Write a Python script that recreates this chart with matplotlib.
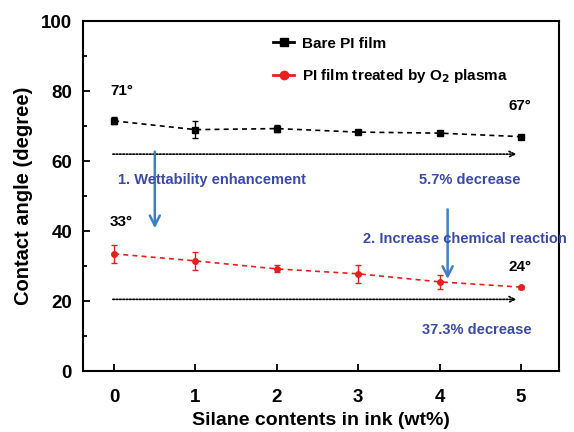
import numpy as np
import matplotlib.pyplot as plt
from matplotlib.ticker import MultipleLocator
from matplotlib.lines import Line2D

plt.rcParams['font.family'] = ['Liberation Sans', 'DejaVu Sans']
plt.rcParams['font.weight'] = 'bold'

silane = [0, 1, 2, 3, 4, 5]
bare = [71.5, 69.0, 69.3, 68.3, 68.0, 67.0]
bare_err = [1.0, 2.5, 1.0, 0.4, 0.4, 0.4]
plasma = [33.5, 31.5, 29.2, 27.8, 25.5, 24.0]
plasma_err = [2.5, 2.5, 1.0, 2.5, 2.0, 0.4]

red = '#e8201c'
fig = plt.figure(figsize=(5.74, 4.32), dpi=100)
ax = fig.add_axes([0.145, 0.141, 0.829, 0.81])

ax.errorbar(silane, bare, yerr=bare_err, color='black', ls=(0, (3, 2.5)), lw=1.2,
            marker='s', ms=4, capsize=2.5, elinewidth=1)
ax.errorbar(silane, plasma, yerr=plasma_err, color=red, ls=(0, (3, 2.5)), lw=1.2,
            marker='o', ms=4, capsize=2.5, elinewidth=1, ecolor=red)

# dotted guide arrows
for yy in [62, 20.5]:
    ax.annotate('', xy=(4.98, yy), xytext=(-0.05, yy),
                arrowprops=dict(arrowstyle='->', ls=(0, (1, 1)), lw=1.2, color='black'))

# blue arrows
blue = '#3f7fc8'
ax.annotate('', xy=(0.5, 40), xytext=(0.5, 63.5),
            arrowprops=dict(arrowstyle='->', lw=1.8, color=blue, mutation_scale=18))
ax.annotate('', xy=(4.1, 25.5), xytext=(4.1, 47),
            arrowprops=dict(arrowstyle='->', lw=1.8, color=blue, mutation_scale=18))

txt = '#3a4aa8'
ax.text(0.05, 53.5, '1. Wettability enhancement', color=txt, fontsize=10.5, fontweight='bold')
ax.text(3.75, 53.5, '5.7% decrease', color=txt, fontsize=10.5, fontweight='bold')
ax.text(3.06, 36.5, '2. Increase chemical reaction', color=txt, fontsize=10.5, fontweight='bold')
ax.text(3.78, 10.5, '37.3% decrease', color=txt, fontsize=10.5, fontweight='bold')

ax.text(-0.05, 79, '71°', fontsize=11)
ax.text(4.85, 74.5, '67°', fontsize=11)
ax.text(-0.05, 41.5, '33°', fontsize=11)
ax.text(4.85, 28.5, '24°', fontsize=11)

ax.set_xlim(-0.38, 5.47)
ax.set_ylim(0, 100)
ax.xaxis.set_major_locator(MultipleLocator(1))
ax.yaxis.set_major_locator(MultipleLocator(20))
ax.yaxis.set_minor_locator(MultipleLocator(10))
ax.tick_params(axis='both', direction='in', labelsize=13.5, width=1.3, length=5)
ax.tick_params(axis='y', which='minor', direction='in', width=1.3, length=3)
ax.tick_params(axis='x', pad=13)
ax.tick_params(axis='y', pad=8)
for lab in ax.get_xticklabels() + ax.get_yticklabels():
    lab.set_fontweight('bold')
for s in ax.spines.values():
    s.set_linewidth(1.5)

ax.set_xlabel('Silane contents in ink (wt%)', fontsize=14, fontweight='bold', labelpad=4)
ax.set_ylabel('Contact angle (degree)', fontsize=14.5, fontweight='bold', labelpad=6)

handles = [Line2D([], [], color='black', lw=2, marker='s', ms=6),
           Line2D([], [], color=red, lw=2, marker='o', ms=6)]
ax.legend(handles, ['Bare PI film', 'PI film treated by O$_2$ plasma'],
          loc='upper left', bbox_to_anchor=(0.37, 0.995), frameon=False, fontsize=11,
          handlelength=1.4, handletextpad=0.5, labelspacing=1.1)

fig.savefig('out.png', dpi=100)
